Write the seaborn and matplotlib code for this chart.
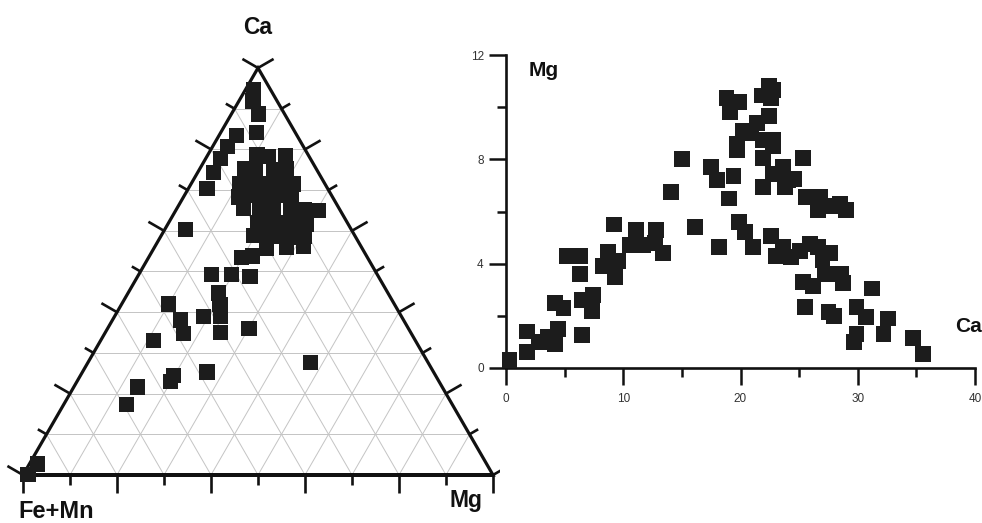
import numpy as np
import pandas as pd
import matplotlib
matplotlib.use("Agg")
import matplotlib.pyplot as plt
import seaborn as sns

# --- Données : diagramme ternaire (Ca %, Mg %), Fe+Mn = reste ---
tern_ca = [94.8, 91.9, 88.7, 84.1, 83.5, 80.8, 77.7, 74.3, 70.3,
           78.6, 78.2, 78.5,
           75.3, 74.8, 75.0, 75.2,
           71.6, 72.0, 71.7, 71.9, 71.5,
           68.3, 68.7, 68.4, 68.6, 68.2,
           65.4, 65.0, 65.3, 65.1, 65.2, 64.9,
           62.1, 61.7, 62.0, 61.8, 61.6,
           58.8, 58.4, 58.7, 58.3, 58.5,
           55.6, 55.9, 56.1,
           53.5, 53.8,
           48.8, 49.2, 49.2, 44.7, 41.8, 38.9, 38.9, 42.0, 38.1, 34.8,
           35.0, 36.0, 33.0, 27.6, 25.3, 24.5, 22.9, 21.6, 17.3, 2.7, 0.1, 60.4]
tern_mg = [1.6, 3.0, 5.8, 7.6, 3.6, 3.1, 3.1, 3.4, 4.0,
           10.5, 13.2, 16.6,
           9.4, 12.0, 15.9, 18.5,
           10.3, 13.1, 16.0, 18.7, 21.7,
           11.8, 14.8, 17.4, 20.5, 23.1,
           14.2, 17.9, 20.6, 24.3, 27.3, 30.4,
           18.8, 21.5, 24.5, 27.1, 29.5,
           19.6, 22.6, 25.3, 28.3, 30.6,
           24.0, 28.1, 31.7,
           19.7, 22.0,
           23.9, 15.5, 19.8, 19.2, 21.0, 19.0, 22.5, 10.0, 14.4, 16.7,
           24.6, 30.1, 11.3, 47.4, 26.5, 19.7, 19.9, 13.6, 13.3, 1.8, 1.0, 4.4]

# --- Données : Mg en fonction de Ca ---
sc_ca = [0.3, 1.8, 1.8, 2.8, 3.6, 4.2, 4.4, 4.2, 4.9, 5.2,
         6.3, 6.3, 6.5, 6.5, 7.4, 7.3, 8.3, 8.7, 9.3, 9.2,
         9.6, 10.6, 11.1, 11.7, 12.8, 12.7, 13.4, 14.1, 15.0, 16.1,
         17.5, 18.0, 18.2, 18.8, 19.1, 19.9, 19.0, 19.4, 19.7, 19.7,
         19.9, 20.4, 21.1, 20.2, 20.9, 21.4, 21.8, 22.4, 22.6, 22.8,
         22.4, 21.9, 22.8, 21.9, 21.9, 22.8, 22.8, 23.6, 24.1, 23.8,
         24.6, 25.3, 22.6, 23.0, 23.6, 24.3, 25.1, 25.3, 25.5, 25.6,
         25.9, 26.2, 26.6, 26.8, 26.6, 27.0, 27.2, 27.6, 27.5, 28.0,
         27.9, 28.6, 28.75, 28.5, 29.0, 29.9, 29.9, 29.7, 30.7, 31.2,
         32.2, 32.6, 34.7, 35.6]
sc_mg = [0.3, 1.4, 0.6, 1.0, 1.2, 0.9, 1.5, 2.5, 2.3, 4.3,
         4.3, 3.6, 1.25, 2.6, 2.8, 2.2, 3.9, 4.45, 3.5, 5.5,
         4.1, 4.7, 5.3, 4.7, 5.3, 4.8, 4.4, 6.75, 8.0, 5.4,
         7.7, 7.2, 4.65, 10.35, 9.8, 10.2, 6.5, 7.35, 8.6, 8.35,
         5.6, 5.2, 4.65, 9.1, 9.0, 9.4, 10.45, 10.8, 10.35, 10.65,
         9.65, 8.75, 8.75, 8.05, 6.95, 8.5, 7.45, 7.7, 7.2, 6.95,
         7.25, 8.05, 5.05, 4.3, 4.65, 4.25, 4.5, 3.3, 2.35, 6.55,
         4.75, 3.15, 4.65, 6.55, 6.05, 4.15, 3.6, 4.4, 2.15, 2.0,
         6.2, 3.6, 3.25, 6.3, 6.05, 2.35, 1.3, 1.0, 1.95, 3.05,
         1.3, 1.9, 1.15, 0.55]

x_major = [0, 10, 20, 30, 40]
x_minor = [5, 15, 25, 35]
y_major = [0, 4, 8, 12]
y_minor = [2, 6, 10]

sns.set_style("ticks")
plt.rcParams['font.family'] = ['Liberation Sans', 'DejaVu Sans']

W, H = 982, 523
fig = plt.figure(figsize=(W / 100, H / 100), dpi=100)
fig.patch.set_facecolor('white')

mark_col = '#1c1c1c'
line_col = '#111111'

# --- Diagramme ternaire ---
ax1 = fig.add_axes([0, 0, 500 / W, 1])
side = 470.0
h = np.sqrt(3) / 2

# grille interne
for i in range(1, 10):
    f = i / 10
    ax1.plot([f / 2, 1 - f / 2], [f * h, f * h], color='#c4c4c4', lw=0.7, zorder=1)
    ax1.plot([f, f + (1 - f) / 2], [0, (1 - f) * h], color='#c4c4c4', lw=0.7, zorder=1)
    ax1.plot([1 - f, (1 - f) / 2], [0, (1 - f) * h], color='#c4c4c4', lw=0.7, zorder=1)

ax1.plot([0, 1, 0.5, 0, 1], [0, 0, h, 0, 0], color=line_col, lw=2.3,
         solid_joinstyle='miter', zorder=2)

# graduations (alternance longue / courte)
sides = [((0, 0), (1, 0), (0, -1)),
         ((1, 0), (0.5, h), (np.cos(np.pi / 6), 0.5)),
         ((0, 0), (0.5, h), (-np.cos(np.pi / 6), 0.5))]
for p0, p1, n in sides:
    for i in range(11):
        t = i / 10
        px = p0[0] + t * (p1[0] - p0[0])
        py = p0[1] + t * (p1[1] - p0[1])
        L = 18 / side if i % 2 == 0 else 10 / side
        ax1.plot([px, px + L * n[0]], [py, py + L * n[1]], color=line_col,
                 lw=1.9, solid_capstyle='butt', zorder=2)

tern = pd.DataFrame({'Ca': tern_ca, 'Mg': tern_mg})
tern['x'] = (tern['Mg'] + tern['Ca'] / 2) / 100
tern['y'] = tern['Ca'] / 100 * h
sns.scatterplot(data=tern, x='x', y='y', marker='s', s=120, color=mark_col,
                edgecolor='none', linewidth=0, ax=ax1, zorder=3, clip_on=False)
ax1.set_xlim(-23 / side, (500 - 23) / side)
ax1.set_ylim((475 - 523) / side, 475 / side)
ax1.axis('off')

fig.text(258 / W, 1 - 27 / H, 'Ca', ha='center', va='center',
         fontsize=16.5, fontweight='bold', color='#111')
fig.text(18 / W, 1 - 511 / H, 'Fe+Mn', ha='left', va='center',
         fontsize=17, fontweight='bold', color='#111')
fig.text(466 / W, 1 - 500 / H, 'Mg', ha='center', va='center',
         fontsize=16.5, fontweight='bold', color='#111')

# --- Mg en fonction de Ca ---
ax2 = fig.add_axes([506 / W, (H - 368) / H, 469 / W, 313 / H])
ax2.set_facecolor('none')
sns.scatterplot(x=sc_ca, y=sc_mg, marker='s', s=130, color=mark_col,
                edgecolor='none', linewidth=0, ax=ax2, zorder=3, clip_on=False)
ax2.set_xlim(0, 40)
ax2.set_ylim(0, 12)
sns.despine(ax=ax2)
for sp in ['left', 'bottom']:
    ax2.spines[sp].set_linewidth(1.9)
    ax2.spines[sp].set_color(line_col)
ax2.set_xticks(x_major)
ax2.set_xticks(x_minor, minor=True)
ax2.set_yticks(y_major)
ax2.set_yticks(y_minor, minor=True)
ax2.tick_params(which='both', bottom=True, left=True, direction='out')
ax2.tick_params(which='major', length=12.5, width=1.8, color=line_col,
                labelsize=8.5, labelcolor='#333')
ax2.tick_params(which='minor', length=6.5, width=1.8, color=line_col)
ax2.tick_params(axis='x', which='major', pad=5.5)
ax2.tick_params(axis='y', which='major', pad=3.5)
ax2.set_xlabel('')
ax2.set_ylabel('')

fig.text(529 / W, 1 - 71 / H, 'Mg', ha='left', va='center',
         fontsize=15, fontweight='bold', color='#111')
fig.text(955 / W, 1 - 327 / H, 'Ca', ha='left', va='center',
         fontsize=15, fontweight='bold', color='#111')

fig.savefig('out.png', dpi=100)
